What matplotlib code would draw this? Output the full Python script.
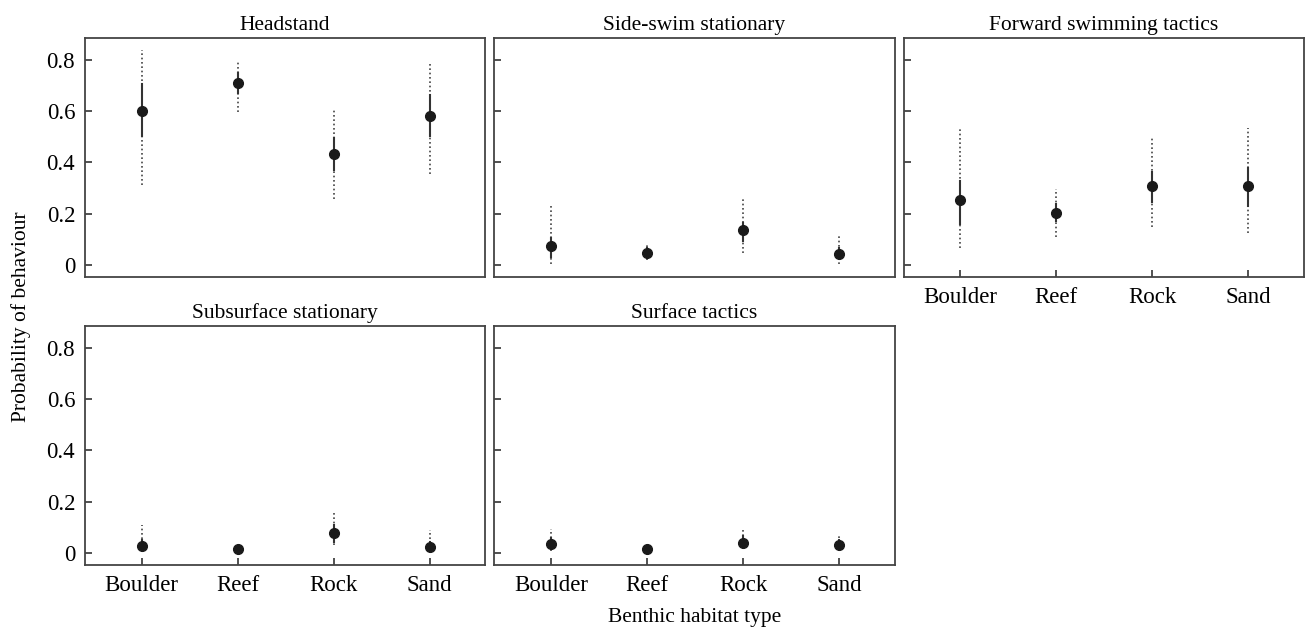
import matplotlib
matplotlib.use('Agg')
import matplotlib.pyplot as plt

habitats = ['Boulder', 'Reef', 'Rock', 'Sand']
behaviours = ['Headstand', 'Side-swim stationary', 'Forward swimming tactics',
              'Subsurface stationary', 'Surface tactics']

# estimated probability, inner interval (solid) and outer interval (dotted)
est = [
    [0.600, 0.707, 0.432, 0.581],
    [0.074, 0.048, 0.136, 0.045],
    [0.253, 0.203, 0.308, 0.308],
    [0.027, 0.015, 0.078, 0.025],
    [0.035, 0.015, 0.040, 0.030],
]
inner_lo = [
    [0.502, 0.668, 0.370, 0.502],
    [0.030, 0.035, 0.095, 0.030],
    [0.160, 0.172, 0.246, 0.229],
    [0.012, 0.008, 0.045, 0.012],
    [0.020, 0.008, 0.025, 0.015],
]
inner_hi = [
    [0.704, 0.746, 0.493, 0.661],
    [0.104, 0.065, 0.165, 0.065],
    [0.328, 0.237, 0.363, 0.379],
    [0.050, 0.025, 0.110, 0.045],
    [0.060, 0.025, 0.065, 0.050],
]
outer_lo = [
    [0.311, 0.596, 0.259, 0.354],
    [0.006, 0.019, 0.048, 0.006],
    [0.065, 0.110, 0.147, 0.127],
    [0.004, 0.004, 0.030, 0.005],
    [0.010, 0.005, 0.015, 0.008],
]
outer_hi = [
    [0.839, 0.800, 0.606, 0.785],
    [0.233, 0.084, 0.256, 0.113],
    [0.529, 0.298, 0.497, 0.532],
    [0.110, 0.035, 0.162, 0.091],
    [0.094, 0.035, 0.096, 0.072],
]

plt.rcParams['font.family'] = ['Liberation Serif', 'DejaVu Serif']
plt.rcParams['font.size'] = 16.5

fig, axes = plt.subplots(2, 3, figsize=(13.11, 6.33), dpi=100)
fig.subplots_adjust(left=0.0648, right=0.9947, top=0.94, bottom=0.1074,
                    wspace=0.0225, hspace=0.205)
axes[1, 2].remove()

panels = [axes[0, 0], axes[0, 1], axes[0, 2], axes[1, 0], axes[1, 1]]
x = list(range(1, len(habitats) + 1))

for i, ax in enumerate(panels):
    for j in range(len(habitats)):
        ax.plot([x[j], x[j]], [outer_lo[i][j], outer_hi[i][j]], color='#444444',
                lw=1.2, ls=(0, (1, 1.6)), zorder=1)
        ax.plot([x[j], x[j]], [inner_lo[i][j], inner_hi[i][j]], color='#333333',
                lw=1.5, zorder=2)
    ax.plot(x, est[i], 'o', color='#1a1a1a', ms=7, zorder=3)
    ax.set_title(behaviours[i], fontsize=15.5, pad=6)
    ax.set_xlim(0.41, 4.58)
    ax.set_ylim(-0.046, 0.884)
    ax.set_yticks([0, 0.2, 0.4, 0.6, 0.8])
    ax.set_yticklabels(['0', '0.2', '0.4', '0.6', '0.8'])
    ax.set_xticks(x)
    ax.set_xticklabels(habitats)
    ax.tick_params(direction='in', length=5, width=1.2, color='#333333', pad=7)
    for s in ax.spines.values():
        s.set_color('#444444')
        s.set_linewidth(1.3)
    if i in (1, 2, 4):
        ax.tick_params(labelleft=False)
    if i in (0, 1):
        ax.tick_params(bottom=False, labelbottom=False)

fig.text(0.016, 0.5, 'Probability of behaviour', rotation=90, ha='center',
         va='center', fontsize=15.5)
fig.text(0.53, 0.025, 'Benthic habitat type', ha='center', va='center', fontsize=15.5)

fig.savefig('out.png', dpi=100)
